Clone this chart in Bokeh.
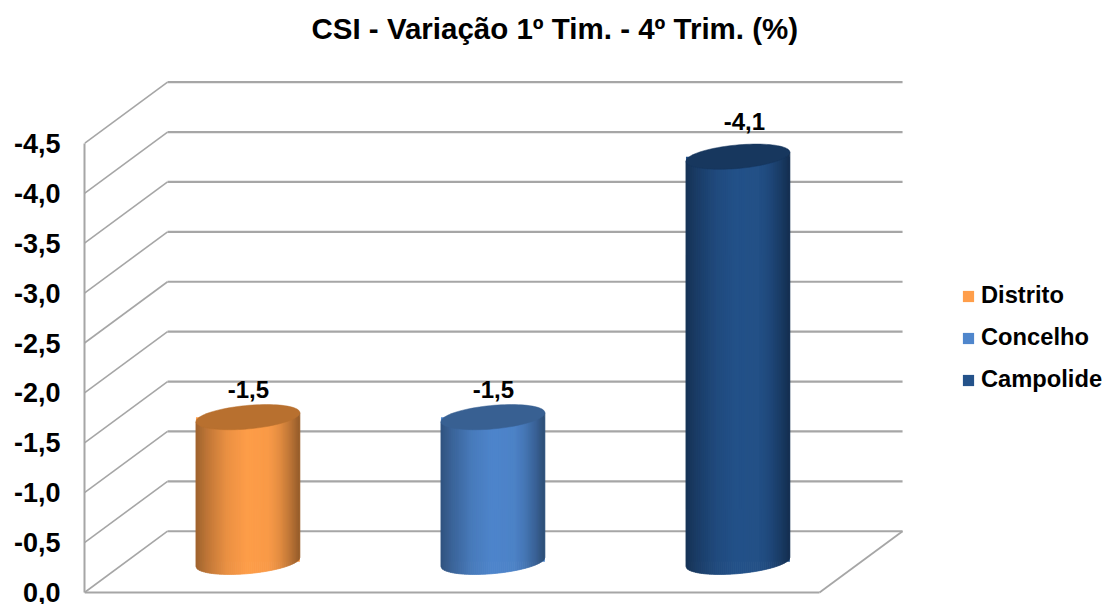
from bokeh.plotting import figure
from bokeh.embed import file_html
from bokeh.resources import INLINE
from bokeh.models import Range1d, FixedTicker, Legend, LegendItem, CustomJSTickFormatter, Label
from bokeh.core.properties import value
import numpy as np

TITLE = "CSI - Variação 1º Tim. - 4º Trim. (%)"
categories = ["Distrito", "Concelho", "Campolide"]
values = [-1.45, -1.45, -4.06]
value_labels = ["-1,5", "-1,5", "-4,1"]
tick_values = [0, -0.5, -1, -1.5, -2, -2.5, -3, -3.5, -4, -4.5]
tick_labels = ["0,0", "-0,5", "-1,0", "-1,5", "-2,0", "-2,5", "-3,0", "-3,5", "-4,0", "-4,5"]
base_colors = ["#FF9E4A", "#4F86CC", "#24528A"]
top_colors = ["#B8702F", "#386092", "#17375E"]

FONT = "Liberation Sans"
GRID = "#A6A6A6"

# chart depth and cylinder shape, in axis units
DX, DY = 0.339, 0.614
X0, X1 = 0.331, 3.331
RX, RY, SKEW = 0.212, 0.118, 0.045
BASE = -DY / 2

p = figure(width=1104, height=604, output_backend="svg", toolbar_location=None,
           x_range=Range1d(X0, X0 + 1020 / 245), y_range=Range1d(0.03, -5.932),
           min_border_left=84, min_border_right=0, min_border_top=0, min_border_bottom=9,
           outline_line_color=None, background_fill_color="white")
p.xaxis.visible = False
p.xgrid.visible = False
p.ygrid.visible = False

yaxis = p.yaxis[0]
yaxis.ticker = FixedTicker(ticks=tick_values)
yaxis.formatter = CustomJSTickFormatter(args=dict(tick_vals=tick_values, tick_text=tick_labels),
                                        code="return tick_text[tick_vals.indexOf(tick)]")
yaxis.bounds = (-4.5, 0)
yaxis.axis_line_color = GRID
yaxis.axis_line_width = 2
yaxis.major_tick_line_color = None
yaxis.minor_tick_line_color = None
yaxis.major_tick_in = 0
yaxis.major_tick_out = 0
yaxis.major_label_standoff = 24
yaxis.major_label_text_font = FONT
yaxis.major_label_text_font_style = "bold"
yaxis.major_label_text_font_size = "27px"
yaxis.major_label_text_color = "#000000"

p.add_layout(Label(x=X0 + 227 / 245, y=-5.651, text=TITLE, text_align="left",
                   text_baseline="middle", text_font=FONT, text_font_style="bold",
                   text_font_size="29.5px", text_color="#000000"))

# walls and floor
ticks = np.array(tick_values, dtype=float)
p.segment(x0=[X0] * len(ticks), y0=ticks, x1=[X0 + DX] * len(ticks), y1=ticks - DY,
          line_color=GRID, line_width=1.6)
p.segment(x0=[X0 + DX] * len(ticks), y0=ticks - DY, x1=[X1 + DX] * len(ticks), y1=ticks - DY,
          line_color=GRID, line_width=2.2)
p.segment(x0=[X0, X1], y0=[0, 0], x1=[X1, X1 + DX], y1=[0, -DY],
          line_color=GRID, line_width=1.8)


def hex_rgb(c):
    return np.array([int(c[i:i + 2], 16) for i in (1, 3, 5)], dtype=float)


SHADE_T = [0, 0.1, 0.3, 0.5, 0.7, 0.8, 0.9, 1]
SHADE_F = [0.62, 0.74, 0.92, 1.0, 0.98, 0.90, 0.76, 0.58]
N = 52
items = []
for i, (name, v, base, top) in enumerate(zip(categories, values, base_colors, top_colors)):
    cx = i + 0.998
    bar = p.vbar(x=[cx], bottom=[BASE], top=[BASE + v], width=2 * RX,
                 fill_color=base, line_color=None)
    items.append(LegendItem(label=name, renderers=[bar]))

    edges = np.linspace(-1, 1, N + 1)
    xs, ys, cols = [], [], []
    rgb = hex_rgb(base)
    for u0, u1 in zip(edges[:-1], edges[1:]):
        us = np.linspace(u0, u1, 4)
        low = BASE - SKEW * us + RY * np.sqrt(np.clip(1 - us ** 2, 0, 1))
        high = BASE + v - SKEW * us[::-1]
        xs.append(np.r_[cx + RX * us, cx + RX * us[::-1]])
        ys.append(np.r_[low, high])
        f = np.interp((u0 + u1) / 4 + 0.5, SHADE_T, SHADE_F)
        c = np.clip(rgb * f, 0, 255).astype(int)
        cols.append("#%02x%02x%02x" % tuple(c))
    p.patches(xs=xs, ys=ys, fill_color=cols, line_color=cols, line_width=0.8)

    th = np.linspace(0, 2 * np.pi, 90)
    p.patch(cx + RX * np.cos(th),
            BASE + v - SKEW * np.cos(th) + RY * np.sin(th),
            fill_color=top, line_color=top, line_width=0.5)

# value labels
p.text(x=[1, 2, 3], y=[BASE + v for v in values], text=value_labels,
       x_offset=[0, 0, 6], y_offset=[-28, -28, -35],
       text_align="center", text_baseline="middle",
       text_font=value(FONT), text_font_style="bold", text_font_size="24px", text_color="#000000")

legend = Legend(items=items, location=(877, 202), orientation="vertical",
                glyph_width=14, glyph_height=14, label_standoff=6, spacing=15,
                padding=0, margin=0, border_line_color=None, background_fill_alpha=0,
                label_text_font=FONT, label_text_font_style="bold",
                label_text_font_size="23.7px", label_text_color="#000000")
p.add_layout(legend)

open("out.html", "w").write(file_html(p, INLINE))
